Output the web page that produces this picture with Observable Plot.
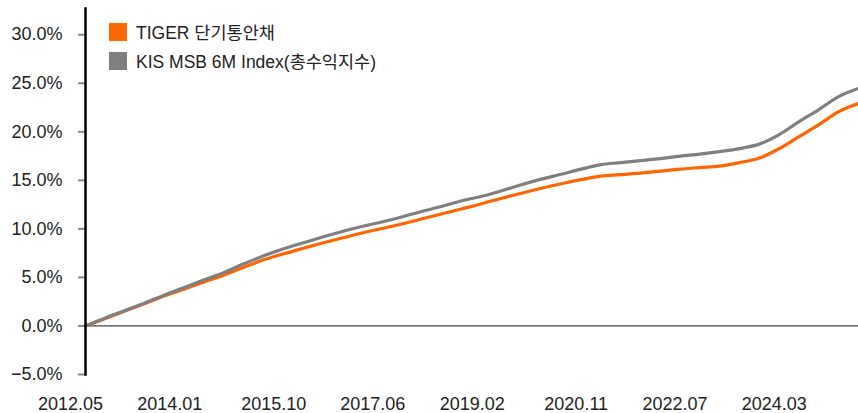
<!DOCTYPE html>
<html>
<head>
<meta charset="utf-8">
<script src="https://cdn.jsdelivr.net/npm/d3@7"></script>
<script src="https://cdn.jsdelivr.net/npm/@observablehq/plot@0.6"></script>
<style>
  html, body { margin: 0; padding: 0; background: #fff; }
  #wrap { position: relative; width: 858px; height: 413px; font-family: "Liberation Sans", "Noto Sans CJK KR", sans-serif; }
  #legend { position: absolute; left: 109px; top: 17px; font-size: 17.5px; color: #222; }
  .item { display: flex; align-items: center; height: 29px; }
  .sw { width: 18px; height: 18px; margin-right: 9px; }
</style>
</head>
<body>
<div id="wrap"></div>
<script>
// ---- data ----
const seriesNames = ["TIGER 단기통안채", "KIS MSB 6M Index(총수익지수)"];
const dates = ["2012-08","2012-12","2013-04","2013-08","2013-12","2014-04","2014-08","2014-12",
  "2015-04","2015-08","2015-12","2016-04","2016-08","2016-12","2017-04","2017-08","2017-12",
  "2018-04","2018-08","2018-12","2019-04","2019-08","2019-12","2020-04","2020-08","2020-12",
  "2021-04","2021-08","2021-12","2022-04","2022-08","2022-12","2023-04","2023-08","2023-12",
  "2024-04","2024-08","2024-12","2025-04","2025-08"];
const tigerValues = [0.00,0.77,1.55,2.32,3.10,3.82,4.54,5.26,6.04,6.81,7.43,8.00,8.57,9.08,9.60,
  10.06,10.53,11.04,11.56,12.07,12.59,13.16,13.67,14.19,14.65,15.07,15.43,15.58,15.74,15.94,
  16.15,16.31,16.46,16.82,17.29,18.27,19.50,20.74,22.08,22.91];
const kisValues = [0.00,0.83,1.60,2.37,3.20,3.97,4.75,5.52,6.40,7.22,7.95,8.57,9.18,9.75,10.27,
  10.73,11.25,11.82,12.33,12.90,13.36,13.93,14.55,15.12,15.63,16.15,16.62,16.82,17.03,17.23,
  17.49,17.70,17.96,18.27,18.73,19.71,21.05,22.29,23.63,24.46];
const xTickLabels = ["2012.05","2014.01","2015.10","2017.06","2019.02","2020.11","2022.07","2024.03"];
const yTicks = [-5, 0, 5, 10, 15, 20, 25, 30];
const colors = ["#FF6600", "#7F7F7F"];

// ---- build ----
const parse = s => new Date(+s.slice(0,4), +s.slice(5,7) - 1, 1);
const rows = [];
dates.forEach((d, i) => {
  rows.push({date: parse(d), value: tigerValues[i], series: seriesNames[0]});
  rows.push({date: parse(d), value: kisValues[i], series: seriesNames[1]});
});
const tickDates = xTickLabels.map(s => new Date(+s.slice(0,4), +s.slice(5,7) - 1, 1));
const x0 = parse(dates[0]), x1 = parse(dates[dates.length - 1]);
const fmt = v => (v < 0 ? "\u2212" : "") + Math.abs(v).toFixed(1) + "%";

const chart = Plot.plot({
  width: 858,
  height: 413,
  marginLeft: 85,
  marginRight: 0,
  marginTop: 8,
  marginBottom: 39,
  style: {fontFamily: '"Liberation Sans", "Noto Sans CJK KR", sans-serif', fontSize: "18px", color: "#222", background: "#fff"},
  x: {type: "time", domain: [x0, x1], axis: null},
  y: {domain: [-5, 32.7], axis: null},
  color: {domain: seriesNames, range: colors},
  marks: [
    Plot.axisY({ticks: yTicks, tickFormat: fmt, label: null, tickSize: 7, tickPadding: 16, stroke: "#888", strokeWidth: 2, fill: "#222", fontSize: 18}),
    Plot.ruleY([0], {stroke: "#444", strokeWidth: 1.2}),
    Plot.line(rows, {x: "date", y: "value", z: "series", stroke: "series", strokeWidth: 3.2, curve: "monotone-x"}),
    Plot.frame({anchor: "left", stroke: "#000", strokeWidth: 2.5}),
    Plot.text(tickDates, {x: d => d, frameAnchor: "bottom", dy: 30, text: (d, i) => xTickLabels[i], fill: "#222", fontSize: 18, lineAnchor: "middle"})
  ]
});

const wrap = document.getElementById("wrap");
wrap.appendChild(chart);
const legend = document.createElement("div");
legend.id = "legend";
seriesNames.forEach((name, i) => {
  const item = document.createElement("div");
  item.className = "item";
  const sw = document.createElement("span");
  sw.className = "sw";
  sw.style.background = colors[i];
  const t = document.createElement("span");
  t.textContent = name;
  item.appendChild(sw);
  item.appendChild(t);
  legend.appendChild(item);
});
wrap.appendChild(legend);
</script>
</body>
</html>
